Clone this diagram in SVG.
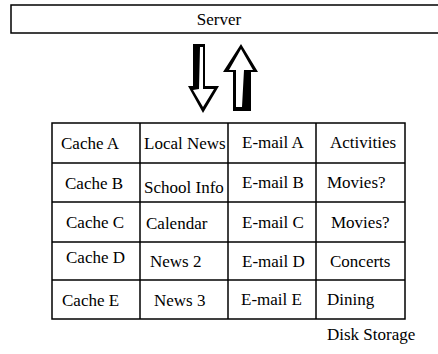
<svg xmlns="http://www.w3.org/2000/svg" width="438" height="354" viewBox="0 0 438 354">
<style>
.t{font-family:"Liberation Serif","Times New Roman",serif;font-size:17px;fill:#000}
.ln{stroke:#000;stroke-width:1.5;fill:none}
</style>
<rect width="438" height="354" fill="#fff"/>
<g id="server">
<rect class="ln" x="11" y="5" width="432" height="28"/>
<text class="t" x="219" y="25" text-anchor="middle">Server</text>
</g>
<g id="connectors">
<g id="arrow-down">
<polygon points="193,44 205,44 205,86 219,86 203,113 188,86 193,86" fill="#000"/>
<polygon points="200,47 203,47 203,89 214,89 203,107 193,90 199,89" fill="#fff"/>
</g>
<g id="arrow-up">
<polygon points="241,44 258,72 251,72 251,111 233,111 233,72 223,72" fill="#000"/>
<polygon points="241,49 253,70 244,70 242,107 236,107 236,70 229,70" fill="#fff"/>
</g>
</g>
<g id="disk-storage">
<g id="table-grid">
<rect class="ln" x="52" y="123" width="353" height="196"/>
<line class="ln" x1="140" y1="123" x2="140" y2="319"/>
<line class="ln" x1="228" y1="123" x2="228" y2="319"/>
<line class="ln" x1="316" y1="123" x2="316" y2="319"/>
<line class="ln" x1="52" y1="163" x2="405" y2="163"/>
<line class="ln" x1="52" y1="202" x2="405" y2="202"/>
<line class="ln" x1="52" y1="242" x2="405" y2="242"/>
<line class="ln" x1="52" y1="280" x2="405" y2="280"/>
</g>
<g id="cells">
<text class="t" x="61" y="149">Cache A</text>
<text class="t" x="144" y="149">Local News</text>
<text class="t" x="242" y="148">E-mail A</text>
<text class="t" x="330" y="148">Activities</text>
<text class="t" x="65" y="189">Cache B</text>
<text class="t" x="144" y="193">School Info</text>
<text class="t" x="242" y="188">E-mail B</text>
<text class="t" x="327" y="188">Movies?</text>
<text class="t" x="66" y="228">Cache C</text>
<text class="t" x="146" y="229">Calendar</text>
<text class="t" x="242" y="228">E-mail C</text>
<text class="t" x="331" y="228">Movies?</text>
<text class="t" x="66" y="263">Cache D</text>
<text class="t" x="150" y="267">News 2</text>
<text class="t" x="242" y="267">E-mail D</text>
<text class="t" x="330" y="267">Concerts</text>
<text class="t" x="62" y="306">Cache E</text>
<text class="t" x="154" y="306">News 3</text>
<text class="t" x="241" y="305">E-mail E</text>
<text class="t" x="327" y="305">Dining</text>
</g>
<text class="t" x="327" y="340">Disk Storage</text>
</g>
</svg>
